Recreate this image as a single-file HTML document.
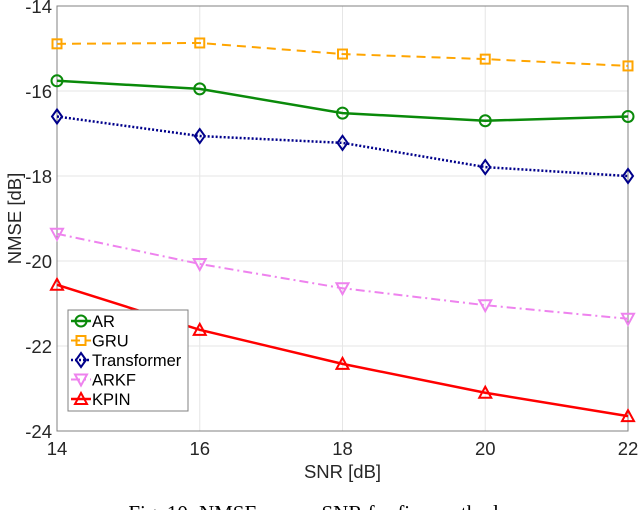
<!DOCTYPE html>
<html><head><meta charset="utf-8"><style>body{margin:0;background:#fff}svg{display:block}</style></head>
<body>
<svg id="chart" width="640" height="510" viewBox="0 0 640 510" xmlns="http://www.w3.org/2000/svg" font-family="Liberation Sans, sans-serif"></svg>
<script>
const categories=[14,16,18,20,22];
const xTicks=[14,16,18,20,22];
const yTicks=[-14,-16,-18,-20,-22,-24];
const arValues=[-15.76,-15.95,-16.52,-16.7,-16.6];
const gruValues=[-14.89,-14.87,-15.13,-15.25,-15.41];
const transformerValues=[-16.6,-17.06,-17.22,-17.79,-18.0];
const arkfValues=[-19.36,-20.07,-20.64,-21.04,-21.36];
const kpinValues=[-20.56,-21.62,-22.42,-23.1,-23.65];
const seriesNames=["AR","GRU","Transformer","ARKF","KPIN"];

const L=57,R=628,T=6,B=431;
const xs=v=>L+(v-14)/(22-14)*(R-L);
const ys=v=>T+(-14-v)/10*(B-T);
const svg=document.getElementById('chart');
const NS='http://www.w3.org/2000/svg';
function mk(tag,attrs,parent){const e=document.createElementNS(NS,tag);for(const k in attrs)e.setAttribute(k,attrs[k]);(parent||svg).appendChild(e);return e;}

const grid=mk('g',{});


xTicks.forEach(t=>{const l=mk('line',{x1:xs(t),x2:xs(t),y1:T,y2:B,stroke:'#e6e6e6','stroke-width':1},grid);

});
yTicks.forEach(t=>{const l=mk('line',{x1:L,x2:R,y1:ys(t),y2:ys(t),stroke:'#e6e6e6','stroke-width':1},grid);

});
const frame=mk('rect',{x:L,y:T,width:R-L,height:B-T,fill:'none',stroke:'#808080','stroke-width':1});


xTicks.forEach(t=>{const e=mk('text',{x:xs(t),y:B+24,'text-anchor':'middle','font-size':18.5,fill:'#262626'});e.textContent=t;

});
yTicks.forEach(t=>{const e=mk('text',{x:L-5,y:ys(t)+7,'text-anchor':'end','font-size':18.5,fill:'#262626'});e.textContent=t;

});
const xt=mk('text',{x:(L+R)/2,y:478,'text-anchor':'middle','font-size':18.5,fill:'#262626'});xt.textContent='SNR [dB]';


const yt=mk('text',{x:0,y:0,transform:`translate(21,${(T+B)/2}) rotate(-90)`,'text-anchor':'middle','font-size':18.5,fill:'#262626'});yt.textContent='NMSE [dB]';


const cap=mk('text',{x:320,y:520,'text-anchor':'middle','font-size':21,'font-family':'Liberation Serif, serif',fill:'#000'});cap.textContent='Fig. 10: NMSE versus SNR for five methods.';



const styles=[
 {c:'#0a8a0a',d:'',m:'circle',w:2.5},
 {c:'#ffa500',d:'9,6',m:'square',w:2},
 {c:'#00008b',d:'2,2',m:'diamond',w:2.5},
 {c:'#ee82ee',d:'9,4,2,4',m:'tridown',w:2},
 {c:'#ff0000',d:'',m:'triup',w:2.5}];
const data=[arValues,gruValues,transformerValues,arkfValues,kpinValues];
function marker(g,type,x,y,c){
 let e;
 if(type==='circle')e=mk('circle',{cx:x,cy:y,r:5.5},g);
 else if(type==='square')e=mk('rect',{x:x-4.5,y:y-4.5,width:9,height:9},g);
 else if(type==='diamond')e=mk('polygon',{points:`${x},${y-7} ${x+5},${y} ${x},${y+7} ${x-5},${y}`},g);
 else if(type==='tridown')e=mk('polygon',{points:`${x-6},${y-5} ${x+6},${y-5} ${x},${y+6}`},g);
 else e=mk('polygon',{points:`${x-6},${y+5} ${x+6},${y+5} ${x},${y-6}`},g);
 e.setAttribute('fill','none');e.setAttribute('stroke',c);e.setAttribute('stroke-width',2);
 
 
}
data.forEach((vals,i)=>{
 const s=styles[i];
 const g=mk('g',{});
 
 
 const pl=mk('polyline',{points:vals.map((v,j)=>xs(categories[j])+','+ys(v)).join(' '),fill:'none',stroke:s.c,'stroke-width':s.w,'stroke-dasharray':s.d},g);
 
 
 vals.forEach((v,j)=>marker(g,s.m,xs(categories[j]),ys(v),s.c));
});
const lg=mk('g',{});


const lb=mk('rect',{x:68,y:310,width:120,height:101,fill:'#fff',stroke:'#808080','stroke-width':1},lg);


seriesNames.forEach((n,i)=>{
 const s=styles[i];const y=321+i*19.5;
 const eg=mk('g',{},lg);
 
 
 mk('line',{x1:71,x2:91,y1:y,y2:y,stroke:s.c,'stroke-width':s.w,'stroke-dasharray':s.d},eg);
 marker(eg,s.m,81,y,s.c);
 const t=mk('text',{x:92,y:y+6,'font-size':16.5,fill:'#000'},eg);t.textContent=n;
});
</script>
</body></html>
